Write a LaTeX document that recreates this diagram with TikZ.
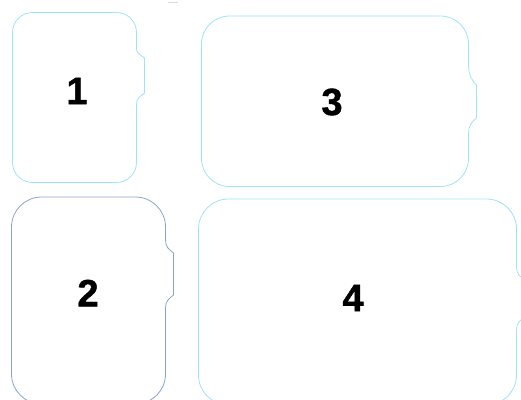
\documentclass[tikz,border=0pt]{standalone}
\usepackage{fontspec}
\setmainfont{Liberation Sans}
\newfontfamily\numfont{Liberation Sans}[BoldFeatures={FakeBold=1.2}]
\definecolor{faceblue}{HTML}{9EE3FA}
\definecolor{facegray}{HTML}{8BA3C4}
\begin{document}
\begin{tikzpicture}[x=1pt, y=-1pt,
    face/.style={line width=.8pt},
    num/.style={font=\numfont\fontsize{38}{40}\selectfont\bfseries}]
     \useasboundingbox (0,0) rectangle (521,399);
     \clip (0,0) rectangle (521,399);
     \draw[gray!30, line width=.6pt] (168,2) -- (178,2);
     \foreach \xa/\ya/\xb/\yb/\rad/\ba/\bb/\bc/\bd/\col in
        {12.5/12.5/136.5/182.5/20/47/58/93/105/faceblue,
         201.5/16/468.5/186.5/28/66/85/118/133/faceblue,
         11.5/197/165.5/404/30/240/253/295/308/facegray,
         198.5/199/516.5/405/30/267/280/317/330/faceblue}
     {
         \draw[face, \col] (\xa+\rad,\ya) -- (\xb-\rad,\ya)
             arc[start angle=-90, end angle=0, radius=\rad] -- (\xb,\ba)
             .. controls (\xb,\ba+7) and (\xb+3,\bb-4) .. (\xb+8,\bb) -- (\xb+8,\bc)
             .. controls (\xb+3,\bc+4) and (\xb,\bd-7) .. (\xb,\bd) -- (\xb,\yb-\rad)
             arc[start angle=0, end angle=90, radius=\rad] -- (\xa+\rad,\yb)
             arc[start angle=90, end angle=180, radius=\rad] -- (\xa,\ya+\rad)
             arc[start angle=180, end angle=270, radius=\rad] -- cycle;
     }
     \node[num] (n1) at (77,91) {1};
     \node[num] (n3) at (332,102) {3};
     \node[num] (n2) at (88,293) {2};
     \node[num] (n4) at (353,298) {4};
 \end{tikzpicture}
\end{document}
